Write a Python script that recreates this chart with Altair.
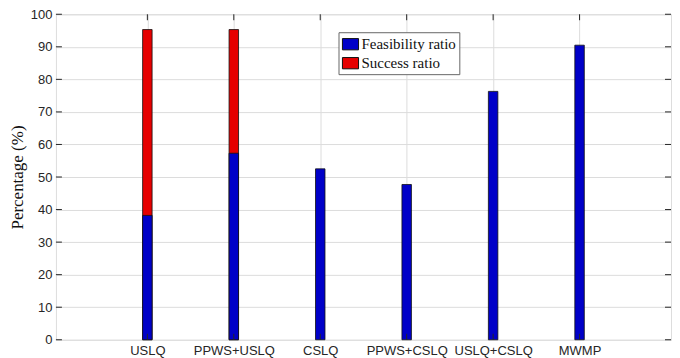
import altair as alt
import pandas as pd

cats = ["USLQ", "PPWS+USLQ", "CSLQ", "PPWS+CSLQ", "USLQ+CSLQ", "MWMP"]
feasibility = [38.2, 57.3, 52.5, 47.7, 76.3, 90.5]
success = [95.3, 95.3, None, None, None, None]
series_names = ["Feasibility ratio", "Success ratio"]
y_ticks = list(range(0, 101, 10))

W, H = 616, 326

rows = []
for i, c in enumerate(cats):
    if success[i] is not None:
        rows.append({"idx": i + 1, "cat": c, "series": "Success ratio", "value": success[i], "o": 0})
for i, c in enumerate(cats):
    rows.append({"idx": i + 1, "cat": c, "series": "Feasibility ratio", "value": feasibility[i], "o": 1})
df = pd.DataFrame(rows)

label_expr = "[" + ",".join('"%s"' % c for c in cats) + "][datum.value - 1]"

xscale = alt.Scale(domain=[0, len(cats) + 1], nice=False, zero=False)
yscale = alt.Scale(domain=[0, 100], nice=False)

xaxis = alt.Axis(values=list(range(1, len(cats) + 1)), labelExpr=label_expr,
                 title=None, grid=True, ticks=False, domain=False,
                 labelFontSize=13, labelPadding=5, labelColor="#262626",
                 labelFont="Liberation Sans", gridColor="#dcdcdc",
                 labelOverlap=False, labelBound=False)
yaxis = alt.Axis(values=y_ticks, title="Percentage (%)", titleFont="Liberation Serif",
                 titleFontSize=17, titleFontWeight="normal", titleColor="#111111",
                 titlePadding=4, grid=True, ticks=False, domain=False,
                 labelFontSize=13, labelPadding=4, labelColor="#262626",
                 labelFont="Liberation Sans", gridColor="#dcdcdc",
                 labelOverlap=False, labelBound=False)

bars = alt.Chart(df).mark_bar(size=9.5, stroke="#111111", strokeWidth=0.8).encode(
    x=alt.X("idx:Q", scale=xscale, axis=xaxis),
    y=alt.Y("value:Q", stack=None, scale=yscale, axis=yaxis),
    color=alt.Color("series:N",
                    scale=alt.Scale(domain=series_names, range=["#0000C8", "#E60000"]),
                    legend=alt.Legend(title=None, orient="none", legendX=283, legendY=18,
                                      fillColor="white", strokeColor="#666666", padding=3,
                                      labelFont="Liberation Serif", labelFontSize=15,
                                      labelColor="#111111", symbolType="M-1,-0.7L1,-0.7L1,0.7L-1,0.7Z",
                                      symbolSize=260, symbolStrokeColor="#111111",
                                      symbolStrokeWidth=1, symbolOpacity=1, rowPadding=2,
                                      labelOffset=2)),
    order=alt.Order("o:Q"),
)

ydf = pd.DataFrame({"v": y_ticks})
xdf = pd.DataFrame({"i": list(range(1, len(cats) + 1))})
tick_col = "#262626"
lt = alt.Chart(ydf).mark_rule(color=tick_col).encode(y=alt.Y("v:Q", scale=yscale, axis=yaxis), x=alt.value(0), x2=alt.value(6))
rt = alt.Chart(ydf).mark_rule(color=tick_col).encode(y=alt.Y("v:Q", scale=yscale, axis=yaxis), x=alt.value(W - 6), x2=alt.value(W))
tt = alt.Chart(xdf).mark_rule(color=tick_col).encode(x=alt.X("i:Q", scale=xscale, axis=xaxis), y=alt.value(0), y2=alt.value(6))
bt = alt.Chart(xdf).mark_rule(color=tick_col).encode(x=alt.X("i:Q", scale=xscale, axis=xaxis), y=alt.value(H - 6), y2=alt.value(H))

chart = alt.layer(bars, lt, rt, tt, bt).properties(
    width=W, height=H,
    autosize=alt.AutoSizeParams(type="none"),
    padding={"left": 48, "top": 6, "right": 1, "bottom": 18},
).configure_view(stroke="#262626", strokeWidth=1).configure(background="white")

chart.save("out.html", embed_options={"renderer": "svg", "actions": False})
